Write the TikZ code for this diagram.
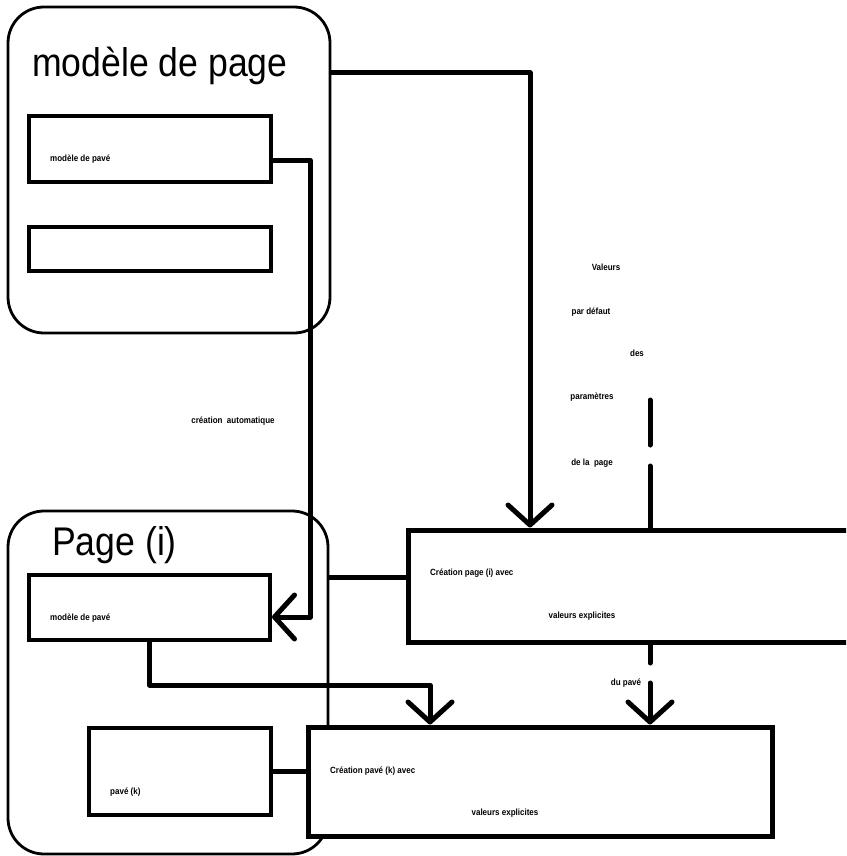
\documentclass[tikz,border=0pt]{standalone}
\usepackage{fontspec}
\setmainfont{Liberation Sans}[FakeStretch=0.89]
\usetikzlibrary{arrows.meta}

\begin{document}
\begin{tikzpicture}[x=1pt, y=-1pt]
        \tikzset{frame/.style = {draw, line width=2.8pt, rounded corners=36pt, inner sep=0pt}}
        \tikzset{slot/.style = {draw, line width=4pt, inner sep=0pt}}
        \tikzset{stage/.style = {draw, fill=white, line width=5pt, inner sep=0pt}}
        \tikzset{title/.style = {inner sep=0pt, anchor=base west, font=\fontsize{40}{44}\selectfont}}
        \tikzset{txt/.style = {inner sep=0pt, font=\fontsize{9}{11}\selectfont\bfseries}}
        \tikzset{link/.style = {line width=5pt, line cap=round, line join=round}}
        \tikzset{tip/.style = {-{Straight Barb[length=20pt, width=44pt, round]}}}
        \clip (0,0) rectangle (846,856);
        % frames
        \node[frame, minimum width=322pt, minimum height=326pt] (mp) at (169,170) {};
        \node[title] (mpt) at (32,77) {modèle de page};
        \node[slot, minimum width=242pt, minimum height=66pt] (mpA) at (150,149) {};
        \node[slot, minimum width=242pt, minimum height=44pt] (mpB) at (150,249) {};
        \node[frame, minimum width=320pt, minimum height=343pt] (pg) at (168,682.5) {};
        \node[title] (pgt) at (52,555) {Page (i)};
        \node[slot, minimum width=241pt, minimum height=65pt] (pgA) at (149.5,607.5) {};
        \node[slot, minimum width=182pt, minimum height=87pt] (pk) at (180,771.5) {};
        \node[stage, minimum width=472pt, minimum height=112pt] (cp) at (644,586) {};
        \node[stage, minimum width=464pt, minimum height=109pt] (ck) at (540,781.5) {};
        % texts
        \node[txt, anchor=west] (mpAt) at (50,159) {modèle de pavé};
        \node[txt, anchor=west] (pgAt) at (50,618) {modèle de pavé};
        \node[txt, anchor=west] (pkt) at (110,792) {pavé (k)};
        \node[txt, anchor=west] (cp1) at (430,573) {Création page (i) avec};
        \node[txt] (cp2) at (582,616) {valeurs explicites};
        \node[txt, anchor=west] (ck1) at (330,771) {Création pavé (k) avec};
        \node[txt] (ck2) at (505,813) {valeurs explicites};
        \node[txt] (auto) at (233,421) {création\ \ automatique};
        \node[txt] (v1) at (606,267) {Valeurs};
        \node[txt] (v2) at (591,312) {par défaut};
        \node[txt] (v3) at (637,353) {des};
        \node[txt] (v4) at (592,397) {paramètres};
        \node[txt] (v5) at (592,463) {de la\ \ page};
        \node[txt] (v6) at (626,683) {du pavé};
        % connectors
        \coordinate (c1) at (530,73);
        \coordinate (c2) at (310,160);
        \coordinate (d1) at (650,400);
        \draw[link, tip] (mp.east |- c1) -- (c1) -- (c1 |- cp.north);
        \draw[link, tip] (mpA.east |- c2) -- (c2) |- (pgA.east |- 0,617);
        \draw[link] (pg.east |- 0,577) -- (cp.west |- 0,577);
        \draw[link, tip] (pgA.south) -- (pgA.south |- 0,685) -| (ck.north -| 430,0);
        \draw[link] (pk.east) -- (pk.east -| ck.west);
        % dashed line
        \draw[link] (d1) -- (650,445);
        \draw[link] (650,466) -- (d1 |- cp.north);
        \draw[link] (cp.south -| d1) -- (650,663);
        \draw[link, tip] (650,683) -- (ck.north -| d1);
\end{tikzpicture}
\end{document}
